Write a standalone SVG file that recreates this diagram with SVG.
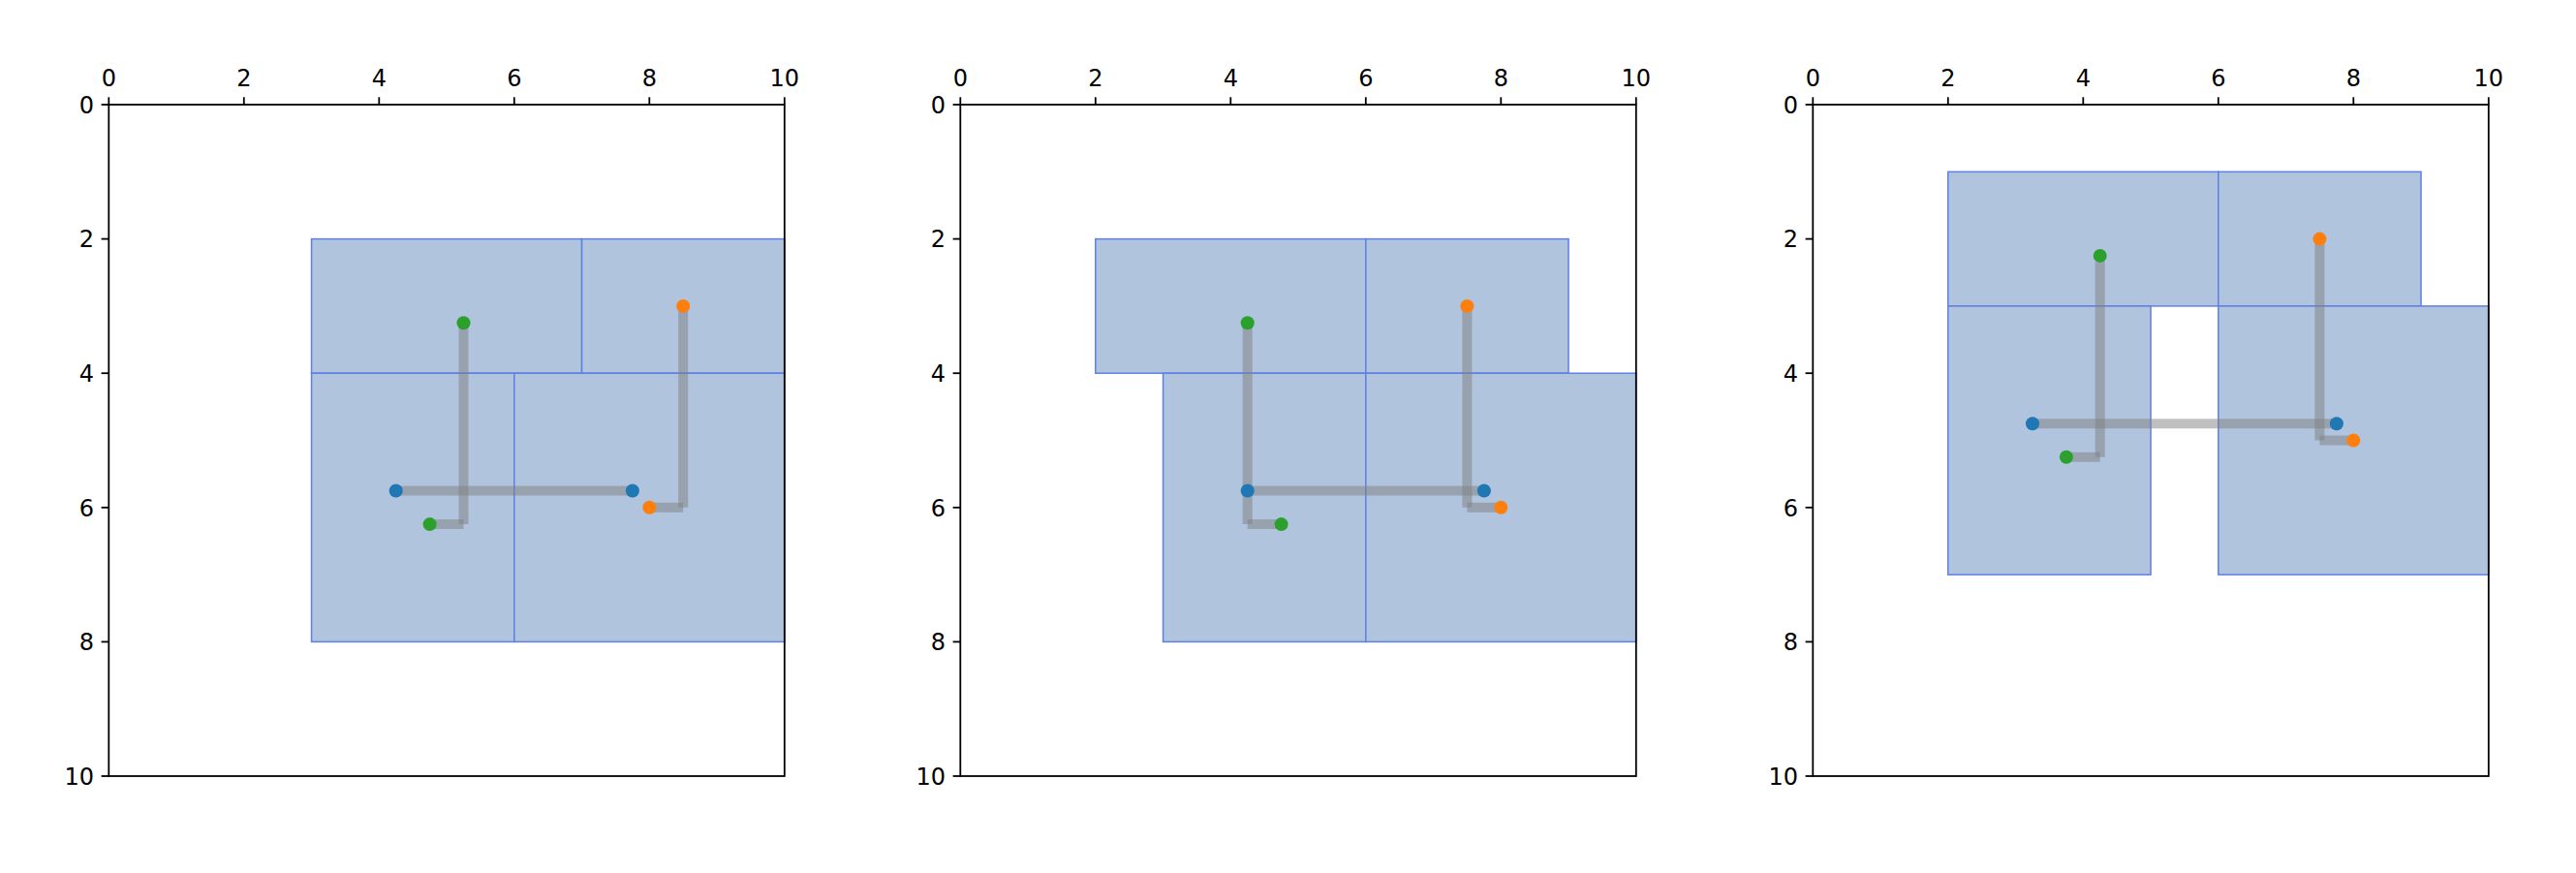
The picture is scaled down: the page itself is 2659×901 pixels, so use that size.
<svg xmlns="http://www.w3.org/2000/svg" width="2659" height="901" viewBox="0 0 2659 901">
<style>
.bg{fill:#ffffff}
.cell{fill:#b0c4de;stroke:#5f80e4;stroke-width:1.5}
.wire{stroke:#808080;stroke-opacity:0.5;stroke-width:10;stroke-linecap:butt;fill:none}
.b{fill:#1f77b4}
.o{fill:#ff7f0e}
.g{fill:#2ca02c}
.spine{fill:none;stroke:#000;stroke-width:1.8;stroke-linecap:square}
.tick{stroke:#000;stroke-width:1.8}
.xl{font-family:"DejaVu Sans",sans-serif;font-size:24px;fill:#000;text-anchor:middle}
.yl{font-family:"DejaVu Sans",sans-serif;font-size:24px;fill:#000;text-anchor:end}
</style>
<rect class="bg" x="0" y="0" width="2659" height="901"/>

<!-- Panel 1 -->
<g id="panel1-cells">
<g id="p1-r1"><rect class="cell" x="321.55" y="246.6" width="279" height="138.6"/></g>
<g id="p1-r2"><rect class="cell" x="600.55" y="246.6" width="209.25" height="138.6"/></g>
<g id="p1-r3"><rect class="cell" x="321.55" y="385.2" width="209.25" height="277.2"/></g>
<g id="p1-r4"><rect class="cell" x="530.8" y="385.2" width="279" height="277.2"/></g>
</g>
<g id="panel1-connectors">
<line class="wire" x1="408.7" y1="506.5" x2="652.9" y2="506.5"/>
<line class="wire" x1="478.5" y1="333.2" x2="478.5" y2="541.1"/>
<line class="wire" x1="478.5" y1="541.1" x2="443.6" y2="541.1"/>
<line class="wire" x1="705.2" y1="315.9" x2="705.2" y2="523.8"/>
<line class="wire" x1="705.2" y1="523.8" x2="670.3" y2="523.8"/>
</g>
<g id="p1-pts">
<g id="p1-b1"><circle class="b" cx="408.7" cy="506.5" r="7"/></g>
<g id="p1-b2"><circle class="b" cx="652.9" cy="506.5" r="7"/></g>
<g id="p1-g1"><circle class="g" cx="478.5" cy="333.2" r="7"/></g>
<g id="p1-g2"><circle class="g" cx="443.6" cy="541.1" r="7"/></g>
<g id="p1-o1"><circle class="o" cx="705.2" cy="315.9" r="7"/></g>
<g id="p1-o2"><circle class="o" cx="670.3" cy="523.8" r="7"/></g>
</g>
<g id="axes1">
<rect class="spine" x="112.3" y="108" width="697.5" height="693"/>
<g class="tick">
<line x1="112.3" y1="108" x2="112.3" y2="100.3"/><line x1="251.8" y1="108" x2="251.8" y2="100.3"/><line x1="391.3" y1="108" x2="391.3" y2="100.3"/><line x1="530.8" y1="108" x2="530.8" y2="100.3"/><line x1="670.3" y1="108" x2="670.3" y2="100.3"/><line x1="809.8" y1="108" x2="809.8" y2="100.3"/>
<line x1="112.3" y1="108" x2="104.6" y2="108"/><line x1="112.3" y1="246.6" x2="104.6" y2="246.6"/><line x1="112.3" y1="385.2" x2="104.6" y2="385.2"/><line x1="112.3" y1="523.8" x2="104.6" y2="523.8"/><line x1="112.3" y1="662.4" x2="104.6" y2="662.4"/><line x1="112.3" y1="801" x2="104.6" y2="801"/>
</g>
<text class="xl" x="112.3" y="89">0</text><text class="xl" x="251.8" y="89">2</text><text class="xl" x="391.3" y="89">4</text><text class="xl" x="530.8" y="89">6</text><text class="xl" x="670.3" y="89">8</text><text class="xl" x="809.8" y="89">10</text>
<text class="yl" x="97" y="116.7">0</text><text class="yl" x="97" y="255.3">2</text><text class="yl" x="97" y="393.9">4</text><text class="yl" x="97" y="532.5">6</text><text class="yl" x="97" y="671.1">8</text><text class="yl" x="97" y="809.7">10</text>
</g>

<!-- Panel 2 -->
<g id="panel2-cells">
<g id="p2-r1"><rect class="cell" x="1130.8" y="246.6" width="279" height="138.6"/></g>
<g id="p2-r2"><rect class="cell" x="1409.8" y="246.6" width="209.25" height="138.6"/></g>
<g id="p2-r3"><rect class="cell" x="1200.55" y="385.2" width="209.25" height="277.2"/></g>
<g id="p2-r4"><rect class="cell" x="1409.8" y="385.2" width="279" height="277.2"/></g>
</g>
<g id="panel2-connectors">
<line class="wire" x1="1287.7" y1="506.5" x2="1531.9" y2="506.5"/>
<line class="wire" x1="1287.7" y1="333.2" x2="1287.7" y2="541.1"/>
<line class="wire" x1="1287.7" y1="541.1" x2="1322.6" y2="541.1"/>
<line class="wire" x1="1514.4" y1="315.9" x2="1514.4" y2="523.8"/>
<line class="wire" x1="1514.4" y1="523.8" x2="1549.3" y2="523.8"/>
</g>
<g id="p2-pts">
<g id="p2-b1"><circle class="b" cx="1287.7" cy="506.5" r="7"/></g>
<g id="p2-b2"><circle class="b" cx="1531.9" cy="506.5" r="7"/></g>
<g id="p2-g1"><circle class="g" cx="1287.7" cy="333.2" r="7"/></g>
<g id="p2-g2"><circle class="g" cx="1322.6" cy="541.1" r="7"/></g>
<g id="p2-o1"><circle class="o" cx="1514.4" cy="315.9" r="7"/></g>
<g id="p2-o2"><circle class="o" cx="1549.3" cy="523.8" r="7"/></g>
</g>
<g id="axes2">
<rect class="spine" x="991.3" y="108" width="697.5" height="693"/>
<g class="tick">
<line x1="991.3" y1="108" x2="991.3" y2="100.3"/><line x1="1130.8" y1="108" x2="1130.8" y2="100.3"/><line x1="1270.3" y1="108" x2="1270.3" y2="100.3"/><line x1="1409.8" y1="108" x2="1409.8" y2="100.3"/><line x1="1549.3" y1="108" x2="1549.3" y2="100.3"/><line x1="1688.8" y1="108" x2="1688.8" y2="100.3"/>
<line x1="991.3" y1="108" x2="983.6" y2="108"/><line x1="991.3" y1="246.6" x2="983.6" y2="246.6"/><line x1="991.3" y1="385.2" x2="983.6" y2="385.2"/><line x1="991.3" y1="523.8" x2="983.6" y2="523.8"/><line x1="991.3" y1="662.4" x2="983.6" y2="662.4"/><line x1="991.3" y1="801" x2="983.6" y2="801"/>
</g>
<text class="xl" x="991.3" y="89">0</text><text class="xl" x="1130.8" y="89">2</text><text class="xl" x="1270.3" y="89">4</text><text class="xl" x="1409.8" y="89">6</text><text class="xl" x="1549.3" y="89">8</text><text class="xl" x="1688.8" y="89">10</text>
<text class="yl" x="976" y="116.7">0</text><text class="yl" x="976" y="255.3">2</text><text class="yl" x="976" y="393.9">4</text><text class="yl" x="976" y="532.5">6</text><text class="yl" x="976" y="671.1">8</text><text class="yl" x="976" y="809.7">10</text>
</g>

<!-- Panel 3 -->
<g id="panel3-cells">
<g id="p3-r1"><rect class="cell" x="2010.8" y="177.3" width="279" height="138.6"/></g>
<g id="p3-r2"><rect class="cell" x="2289.8" y="177.3" width="209.25" height="138.6"/></g>
<g id="p3-r3"><rect class="cell" x="2010.8" y="315.9" width="209.25" height="277.2"/></g>
<g id="p3-r4"><rect class="cell" x="2289.8" y="315.9" width="279" height="277.2"/></g>
</g>
<g id="panel3-connectors">
<line class="wire" x1="2098.0" y1="437.2" x2="2411.9" y2="437.2"/>
<line class="wire" x1="2167.7" y1="263.9" x2="2167.7" y2="471.8"/>
<line class="wire" x1="2167.7" y1="471.8" x2="2132.9" y2="471.8"/>
<line class="wire" x1="2394.4" y1="246.6" x2="2394.4" y2="454.5"/>
<line class="wire" x1="2394.4" y1="454.5" x2="2429.3" y2="454.5"/>
</g>
<g id="p3-pts">
<g id="p3-b1"><circle class="b" cx="2098.0" cy="437.2" r="7"/></g>
<g id="p3-b2"><circle class="b" cx="2411.9" cy="437.2" r="7"/></g>
<g id="p3-g1"><circle class="g" cx="2167.7" cy="263.9" r="7"/></g>
<g id="p3-g2"><circle class="g" cx="2132.9" cy="471.8" r="7"/></g>
<g id="p3-o1"><circle class="o" cx="2394.4" cy="246.6" r="7"/></g>
<g id="p3-o2"><circle class="o" cx="2429.3" cy="454.5" r="7"/></g>
</g>
<g id="axes3">
<rect class="spine" x="1871.3" y="108" width="697.5" height="693"/>
<g class="tick">
<line x1="1871.3" y1="108" x2="1871.3" y2="100.3"/><line x1="2010.8" y1="108" x2="2010.8" y2="100.3"/><line x1="2150.3" y1="108" x2="2150.3" y2="100.3"/><line x1="2289.8" y1="108" x2="2289.8" y2="100.3"/><line x1="2429.3" y1="108" x2="2429.3" y2="100.3"/><line x1="2568.8" y1="108" x2="2568.8" y2="100.3"/>
<line x1="1871.3" y1="108" x2="1863.6" y2="108"/><line x1="1871.3" y1="246.6" x2="1863.6" y2="246.6"/><line x1="1871.3" y1="385.2" x2="1863.6" y2="385.2"/><line x1="1871.3" y1="523.8" x2="1863.6" y2="523.8"/><line x1="1871.3" y1="662.4" x2="1863.6" y2="662.4"/><line x1="1871.3" y1="801" x2="1863.6" y2="801"/>
</g>
<text class="xl" x="1871.3" y="89">0</text><text class="xl" x="2010.8" y="89">2</text><text class="xl" x="2150.3" y="89">4</text><text class="xl" x="2289.8" y="89">6</text><text class="xl" x="2429.3" y="89">8</text><text class="xl" x="2568.8" y="89">10</text>
<text class="yl" x="1856" y="116.7">0</text><text class="yl" x="1856" y="255.3">2</text><text class="yl" x="1856" y="393.9">4</text><text class="yl" x="1856" y="532.5">6</text><text class="yl" x="1856" y="671.1">8</text><text class="yl" x="1856" y="809.7">10</text>
</g>
</svg>
